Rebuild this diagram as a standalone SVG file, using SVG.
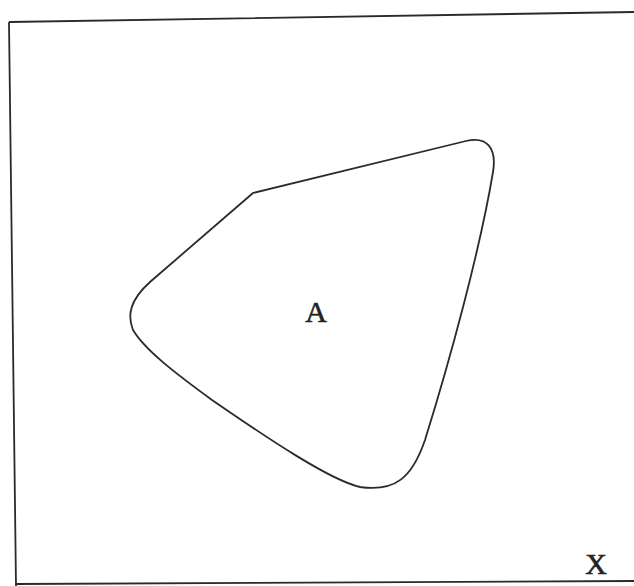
<svg xmlns="http://www.w3.org/2000/svg" width="634" height="586" viewBox="0 0 634 586">
<style>
.ln{fill:none;stroke:#2a2a2a;stroke-width:1.8;stroke-linejoin:round}
.lb{font-family:"Liberation Serif","DejaVu Serif",serif;font-size:30px;fill:#222;stroke:#222;stroke-width:0.6;text-anchor:middle}
</style>
<rect width="634" height="586" fill="#fff"/>
<g id="frame">
<path class="ln" d="M 9 22 L 634 12 M 9 22 L 16 586 M 16 584 L 634 581"/>
<text class="lb" x="596" y="574">X</text>
</g>
<g id="A">
<path class="ln" d="M 253 193 L 466 141 C 487 136 497 148 493 172 C 480 250 450 360 425 440 C 412 478 395 492 360 487 C 330 480 270 440 212 400 C 175 373 145 350 133 330 C 127 315 130 300 150 282 Z"/>
<text class="lb" x="316" y="322">A</text>
</g>
</svg>
